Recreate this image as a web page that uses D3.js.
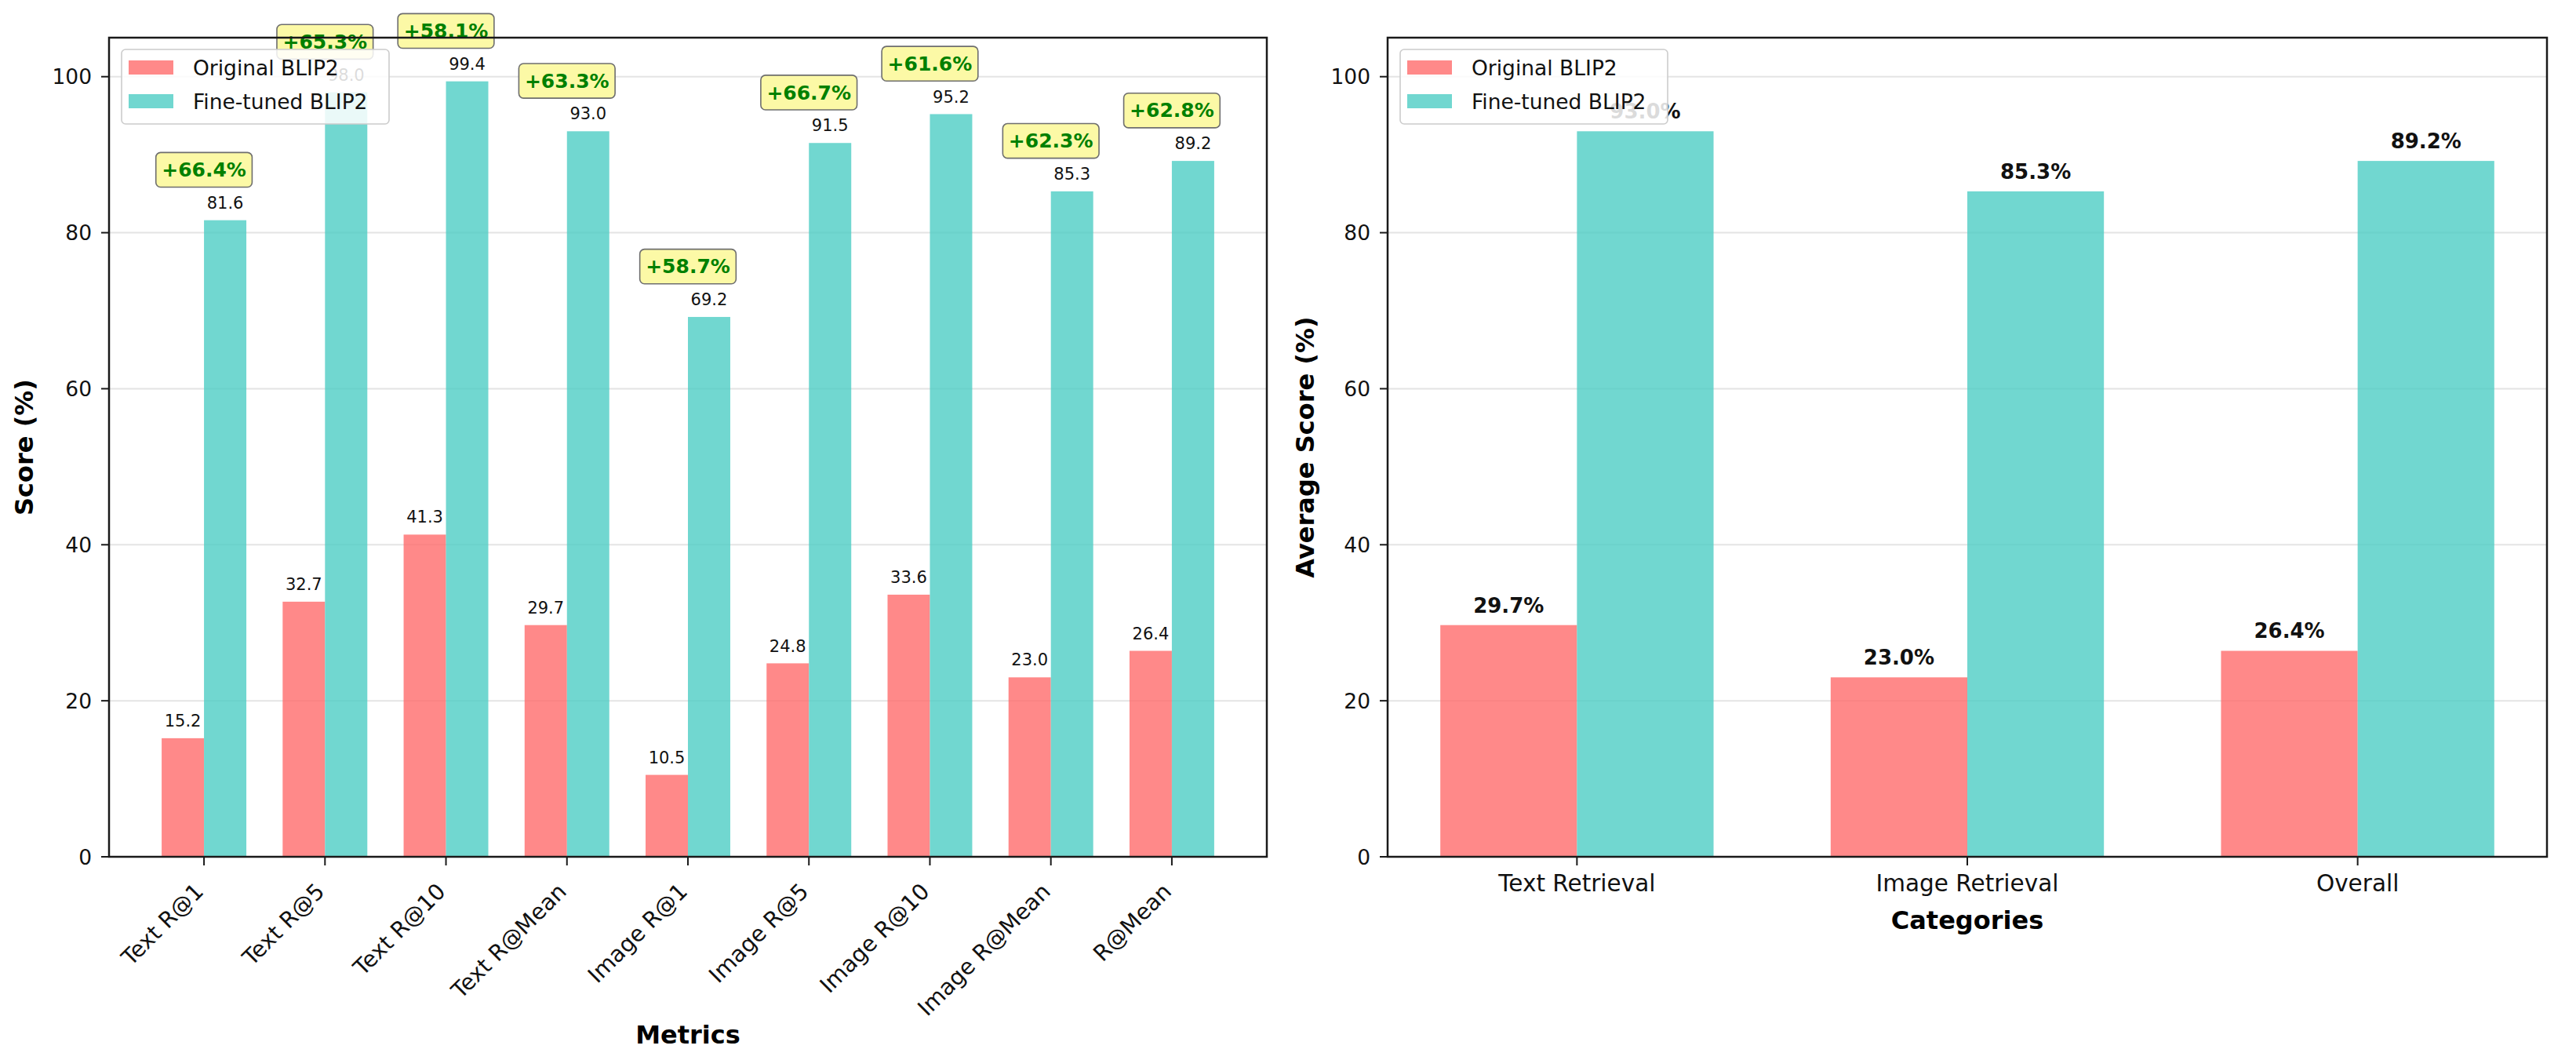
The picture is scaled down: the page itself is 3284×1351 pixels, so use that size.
<!DOCTYPE html>
<html>
<head>
<meta charset="utf-8">
<script src="https://cdn.jsdelivr.net/npm/d3@7"></script>
<style>
  body { margin: 0; background: #fff; }
  svg { display: block; font-family: "DejaVu Sans", sans-serif; }
</style>
</head>
<body>
<div id="chart"></div>
<script>
const width = 3284;
const height = 1351;

// data
const metrics = ["Text R@1", "Text R@5", "Text R@10", "Text R@Mean", "Image R@1",
  "Image R@5", "Image R@10", "Image R@Mean", "R@Mean"];
const originalScores = [15.2, 32.7, 41.3, 29.7, 10.5, 24.8, 33.6, 23.0, 26.4];
const finetunedScores = [81.6, 98.0, 99.4, 93.0, 69.2, 91.5, 95.2, 85.3, 89.2];

const categories = ["Text Retrieval", "Image Retrieval", "Overall"];
const originalAvg = [29.7, 23.0, 26.4];
const finetunedAvg = [93.0, 85.3, 89.2];

const seriesNames = ["Original BLIP2", "Fine-tuned BLIP2"];
const yTicks = [0, 20, 40, 60, 80, 100];

const colors = ["#FF6B6B", "#4ECDC4"];
const barW = 0.35;
const plotTop = 48, plotBottom = 1092;

const svg = d3.select("#chart")
  .append("svg")
  .attr("width", width)
  .attr("height", height)
  .attr("viewBox", [0, 0, width, height]);

svg.append("rect").attr("width", width).attr("height", height).attr("fill", "#fff");

function drawPanel(cfg) {
  const n = cfg.cats.length;
  const span = (n - 1) + 2 * barW;
  const x = d3.scaleLinear()
    .domain([-barW - 0.05 * span, n - 1 + barW + 0.05 * span])
    .range([cfg.left, cfg.right]);
  const y = d3.scaleLinear().domain([0, 105]).range([plotBottom, plotTop]);
  const pxW = x(barW) - x(0);

  const g = svg.append("g");

  // grid
  g.append("g")
    .selectAll("line")
    .data(yTicks)
    .enter()
    .append("line")
    .attr("x1", cfg.left)
    .attr("x2", cfg.right)
    .attr("y1", (d) => y(d))
    .attr("y2", (d) => y(d))
    .attr("stroke", "#e4e4e4")
    .attr("stroke-width", 2);

  // bars
  [cfg.orig, cfg.fine].forEach((vals, s) => {
    g.append("g")
      .selectAll("rect")
      .data(vals)
      .enter()
      .append("rect")
      .attr("x", (d, i) => (s === 0 ? x(i) - pxW : x(i)))
      .attr("y", (d) => y(d))
      .attr("width", pxW)
      .attr("height", (d) => y(0) - y(d))
      .attr("fill", colors[s])
      .attr("fill-opacity", 0.8);
  });

  // value labels
  [cfg.orig, cfg.fine].forEach((vals, s) => {
    g.append("g")
      .selectAll("text")
      .data(vals)
      .enter()
      .append("text")
      .attr("x", (d, i) => x(i) + (s === 0 ? -pxW / 2 : pxW / 2))
      .attr("y", (d) => y(d + 1) - cfg.valueSize * 0.236)
      .attr("text-anchor", "middle")
      .attr("font-size", cfg.valueSize)
      .attr("font-weight", cfg.valueBold ? "bold" : "normal")
      .attr("fill", "#111")
      .text((d) => d.toFixed(1) + cfg.suffix);
  });

  // improvement boxes
  if (cfg.improve) {
    const fs = 25, pad = 7.5;
    const ig = g.append("g");
    cfg.fine.forEach((f, i) => {
      const base = y(f + 5) - fs * 0.236;
      const t = ig.append("text")
        .attr("x", x(i))
        .attr("y", base)
        .attr("text-anchor", "middle")
        .attr("font-size", fs)
        .attr("font-weight", "bold")
        .attr("fill", "#008000")
        .text("+" + (f - cfg.orig[i]).toFixed(1) + "%");
      const tw = t.node().getComputedTextLength();
      ig.insert("rect", () => t.node())
        .attr("x", x(i) - tw / 2 - pad)
        .attr("y", base - fs * 0.928 - pad)
        .attr("width", tw + 2 * pad)
        .attr("height", fs * 1.164 + 2 * pad)
        .attr("rx", 6)
        .attr("fill", "#fcf9a6")
        .attr("stroke", "#6e6e6e")
        .attr("stroke-width", 1.6);
    });
  }

  // spines
  g.append("rect")
    .attr("x", cfg.left)
    .attr("y", plotTop)
    .attr("width", cfg.right - cfg.left)
    .attr("height", plotBottom - plotTop)
    .attr("fill", "none")
    .attr("stroke", "#1a1a1a")
    .attr("stroke-width", 2.5);

  // y ticks
  const yt = g.append("g").selectAll("g").data(yTicks).enter().append("g");
  yt.append("line")
    .attr("x1", cfg.left - 10)
    .attr("x2", cfg.left)
    .attr("y1", (d) => y(d))
    .attr("y2", (d) => y(d))
    .attr("stroke", "#1a1a1a")
    .attr("stroke-width", 2);
  yt.append("text")
    .attr("x", cfg.left - 22)
    .attr("y", (d) => y(d))
    .attr("dy", "0.36em")
    .attr("text-anchor", "end")
    .attr("font-size", 26.5)
    .attr("fill", "#111")
    .text((d) => d);

  // x ticks
  const xt = g.append("g").selectAll("g").data(cfg.cats).enter().append("g");
  xt.append("line")
    .attr("x1", (d, i) => x(i))
    .attr("x2", (d, i) => x(i))
    .attr("y1", plotBottom)
    .attr("y2", plotBottom + 11)
    .attr("stroke", "#1a1a1a")
    .attr("stroke-width", 2);
  if (cfg.rotate) {
    xt.append("text")
      .attr("transform", (d, i) => `translate(${x(i) + 1}, ${plotBottom + 46}) rotate(-45)`)
      .attr("text-anchor", "end")
      .attr("font-size", 28.5)
      .attr("fill", "#111")
      .text((d) => d);
  } else {
    xt.append("text")
      .attr("x", (d, i) => x(i))
      .attr("y", 1136)
      .attr("text-anchor", "middle")
      .attr("font-size", 29.5)
      .attr("fill", "#111")
      .text((d) => d);
  }

  // axis titles
  g.append("text")
    .attr("x", (cfg.left + cfg.right) / 2)
    .attr("y", cfg.xTitleY)
    .attr("text-anchor", "middle")
    .attr("font-size", 32)
    .attr("font-weight", "bold")
    .attr("fill", "#000")
    .text(cfg.xTitle);
  g.append("text")
    .attr("transform", `translate(${cfg.yTitleX}, ${(plotTop + plotBottom) / 2}) rotate(-90)`)
    .attr("text-anchor", "middle")
    .attr("font-size", 32)
    .attr("font-weight", "bold")
    .attr("fill", "#000")
    .text(cfg.yTitle);

  // legend
  const lg = g.append("g").attr("transform", `translate(${cfg.left + 16}, 63)`);
  lg.append("rect")
    .attr("width", 341)
    .attr("height", 95)
    .attr("rx", 5)
    .attr("fill", "#fff")
    .attr("fill-opacity", 0.85)
    .attr("stroke", "#cccccc")
    .attr("stroke-width", 1.6);
  const items = lg.selectAll("g").data(seriesNames).enter().append("g")
    .attr("transform", (d, i) => `translate(0, ${23 + i * 43})`);
  items.append("rect")
    .attr("x", 9)
    .attr("y", -9)
    .attr("width", 57)
    .attr("height", 18)
    .attr("fill", (d, i) => colors[i])
    .attr("fill-opacity", 0.8);
  items.append("text")
    .attr("x", 91)
    .attr("y", 9.5)
    .attr("font-size", 26.5)
    .attr("fill", "#111")
    .text((d) => d);
}

drawPanel({
  cats: metrics, orig: originalScores, fine: finetunedScores,
  left: 139, right: 1615, rotate: true, improve: true,
  valueSize: 21, valueBold: false, suffix: "",
  xTitle: "Metrics", xTitleY: 1330, yTitle: "Score (%)", yTitleX: 42
});

drawPanel({
  cats: categories, orig: originalAvg, fine: finetunedAvg,
  left: 1769, right: 3247, rotate: false, improve: false,
  valueSize: 26, valueBold: true, suffix: "%",
  xTitle: "Categories", xTitleY: 1184, yTitle: "Average Score (%)", yTitleX: 1675
});
</script>
</body>
</html>
